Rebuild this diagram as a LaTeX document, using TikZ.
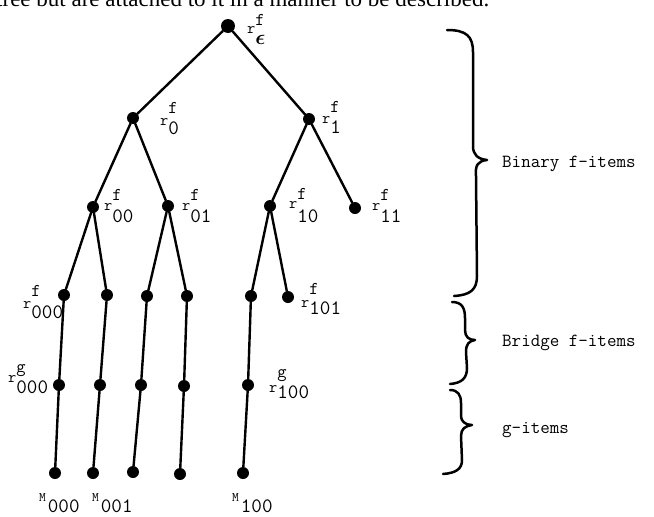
\documentclass[tikz,border=0pt]{standalone}
\usepackage{fontspec}
\setmainfont{Liberation Serif}
\newcommand{\tw}{\ttfamily\addfontfeatures{FakeBold=1.5}}
\newcommand{\rlab}[4]{{\fontsize{16}{16}\selectfont\tw r}\makebox[0pt][l]{\raisebox{#3pt}{\fontsize{18}{18}\selectfont\tw #1}}\raisebox{-#4pt}{\fontsize{20.5}{20.5}\selectfont\tw #2}}
\newcommand{\mlab}[1]{{\fontsize{13}{13}\selectfont\tw M}\kern2pt\raisebox{-11pt}{\fontsize{20.5}{20.5}\selectfont\tw #1}}
\begin{document}
\begin{tikzpicture}[x=1pt,y=-1pt,
  dot/.style={circle,fill=black,inner sep=0pt,minimum size=12pt},
  edge/.style={line width=2.4pt,line cap=round},
  lab/.style={anchor=base west,inner sep=0pt},
  side/.style={anchor=base west,inner sep=0pt,font=\fontsize{18.5}{18.5}\selectfont\tw},
  bracestyle/.style={line width=2.5pt,line cap=round,line join=round}]
\useasboundingbox (0,0) rectangle (654,517);
\begin{scope}
\clip (0,0) rectangle (654,517);
\node[anchor=base west,inner sep=0pt,font=\fontsize{23}{23}\selectfont] (top) at (-4,6) {tree but are attached to it in a manner to be described.};
\end{scope}
% nodes
\node[dot,minimum size=14pt] (e) at (228,26) {};
\node[dot] (n0) at (133,118) {};
\node[dot] (n1) at (309,119) {};
\node[dot] (n00) at (93,207) {};
\node[dot] (n01) at (168,206) {};
\node[dot] (n10) at (270,206) {};
\node[dot] (n11) at (355,208) {};
\node[dot] (n000) at (64,295) {};
\node[dot] (n001) at (107,295) {};
\node[dot] (n010) at (147,296) {};
\node[dot] (n011) at (187,296) {};
\node[dot] (n100) at (251,296) {};
\node[dot] (n101) at (288,297) {};
\node[dot] (g000) at (59,385) {};
\node[dot] (g001) at (100,385) {};
\node[dot] (g010) at (141,385) {};
\node[dot] (g011) at (184,386) {};
\node[dot] (g100) at (248,385) {};
\node[dot] (m000) at (55,473) {};
\node[dot] (m001) at (93,473) {};
\node[dot] (m010) at (133,472) {};
\node[dot] (m011) at (180,474) {};
\node[dot] (m100) at (243,473) {};
% edges
\draw[edge] (e) -- (n0);
\draw[edge] (e) -- (n1);
\draw[edge] (n0) -- (n00);
\draw[edge] (n0) -- (n01);
\draw[edge] (n1) -- (n10);
\draw[edge] (n1) -- (n11);
\draw[edge] (n00) -- (n000);
\draw[edge] (n00) -- (n001);
\draw[edge] (n01) -- (n010);
\draw[edge] (n01) -- (n011);
\draw[edge] (n10) -- (n100);
\draw[edge] (n10) -- (n101);
\draw[edge] (n000) -- (g000) -- (m000);
\draw[edge] (n001) -- (g001) -- (m001);
\draw[edge] (n010) -- (g010) -- (m010);
\draw[edge] (n011) -- (g011) -- (m011);
\draw[edge] (n100) -- (g100) -- (m100);
% labels
\node[lab] (le) at (247,33) {\rlab{f}{\boldmath$\epsilon$}{8}{11}};
\node[lab] (l0) at (160,125) {\rlab{f}{0}{12}{9}};
\node[lab] (l1) at (322,123) {\rlab{f}{1}{11}{10}};
\node[lab] (l00) at (104,210) {\rlab{f}{00}{10}{12}};
\node[lab] (l01) at (182,210) {\rlab{f}{01}{10}{12}};
\node[lab] (l10) at (289,208) {\rlab{f}{10}{9}{14}};
\node[lab] (l11) at (372,210) {\rlab{f}{11}{10}{12}};
\node[lab] (l000) at (23,308) {\rlab{f}{000}{12}{10}};
\node[lab] (l101) at (301,307) {\rlab{f}{101}{13}{7}};
\node[lab] (lg000) at (8,382) {\rlab{g}{000}{10}{11}};
\node[lab] (lg100) at (269,392) {\rlab{g}{100}{15}{6}};
\node[lab] (lm000) at (39,501) {\mlab{000}};
\node[lab] (lm001) at (92,501) {\mlab{001}};
\node[lab] (lm100) at (232,501) {\mlab{100}};
% braces
\draw[bracestyle] (447,30) .. controls (466,30) and (473,36) .. (473,52)
  -- (473,146) .. controls (473,155) and (478,159) .. (487,160)
  .. controls (478,161) and (475,165) .. (476,176)
  -- (477,276) .. controls (477,290) and (470,295) .. (454,296);
\draw[bracestyle] (452,302) .. controls (462,302) and (465,308) .. (465,318)
  -- (465,330) .. controls (465,337) and (469,340) .. (475,340)
  .. controls (469,341) and (466,344) .. (466,352)
  -- (467,368) .. controls (467,378) and (462,383) .. (450,384);
\draw[bracestyle] (450,390) .. controls (458,390) and (461,395) .. (461,403)
  -- (461,416) .. controls (461,421) and (465,425) .. (472,425)
  .. controls (465,426) and (461,429) .. (461,436)
  -- (462,460) .. controls (462,469) and (456,473) .. (443,474);
% side texts
\node[side] (t1) at (502,167) {Binary f-items};
\node[side] (t2) at (502,346) {Bridge f-items};
\node[side] (t3) at (502,433) {g-items};
\end{tikzpicture}
\end{document}
